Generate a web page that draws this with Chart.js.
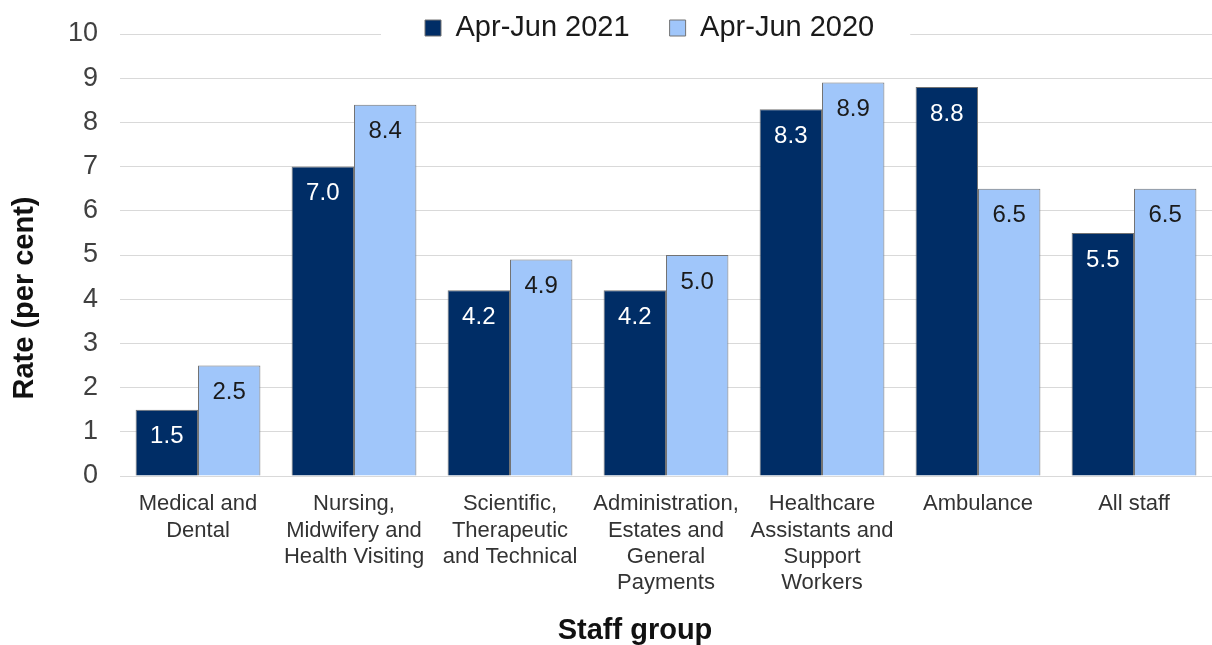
<!DOCTYPE html>
<html>
<head>
<meta charset="utf-8">
<script src="https://cdn.jsdelivr.net/npm/chart.js@4/dist/chart.umd.min.js"></script>
<style>
  html, body { margin: 0; padding: 0; background: #ffffff; }
  #wrap { width: 1212px; height: 645px; position: relative; }
</style>
</head>
<body>
<div id="wrap"><canvas id="c" width="1212" height="645"></canvas></div>
<script>
// ---- data ----
const categories = [
  ["Medical and", "Dental"],
  ["Nursing,", "Midwifery and", "Health Visiting"],
  ["Scientific,", "Therapeutic", "and Technical"],
  ["Administration,", "Estates and", "General", "Payments"],
  ["Healthcare", "Assistants and", "Support", "Workers"],
  ["Ambulance"],
  ["All staff"]
];
const seriesNames = ["Apr-Jun 2021", "Apr-Jun 2020"];
const rate2021 = [1.5, 7.0, 4.2, 4.2, 8.3, 8.8, 5.5];
const rate2020 = [2.5, 8.4, 4.9, 5.0, 8.9, 6.5, 6.5];
const yTicks = [0, 1, 2, 3, 4, 5, 6, 7, 8, 9, 10];

const FONT = "'Liberation Sans', Arial, sans-serif";
const DARK = '#002d66';
const LIGHT = '#a0c6fa';

// value labels inside bar tops
const valueLabels = {
  id: 'valueLabels',
  afterDatasetsDraw(chart) {
    const ctx = chart.ctx;
    ctx.save();
    ctx.font = '24px ' + FONT;
    ctx.textAlign = 'center';
    ctx.textBaseline = 'middle';
    chart.data.datasets.forEach((ds, i) => {
      const meta = chart.getDatasetMeta(i);
      ctx.fillStyle = i === 0 ? '#ffffff' : '#1a1a1a';
      meta.data.forEach((bar, j) => {
        ctx.fillText(Number(ds.data[j]).toFixed(1), bar.x, bar.y + 27);
      });
    });
    ctx.restore();
  }
};

// legend overlapping plot top with white background; axis title offsets
const layoutTweaks = {
  id: 'layoutTweaks',
  afterInit(chart) {
    const lg = chart.legend;
    if (!lg) return;
    const origFit = lg.fit;
    lg.fit = function () { origFit.call(this); this.height = 34; };
    const origDraw = lg.draw;
    lg.draw = function () {
      const hb = this.legendHitBoxes || [];
      const ctx = this.ctx;
      const savedBottom = this.bottom;
      ctx.save();
      if (hb.length) {
        const dx = 425 - hb[0].left;
        const dy = 28 - (hb[0].top + hb[0].height / 2);
        const first = hb[0], last = hb[hb.length - 1];
        ctx.fillStyle = '#ffffff';
        ctx.fillRect(first.left + dx - 44, 6, (last.left + last.width) - first.left + 44 + 36, 42);
        ctx.translate(dx, dy);
      }
      this.bottom = this.top + 140;
      origDraw.call(this);
      this.bottom = savedBottom;
      ctx.restore();
    };
  },
  afterLayout(chart) {
    const y = chart.scales.y, x = chart.scales.x;
    if (y && !y._titlePatched) {
      const o = y.drawTitle;
      y.drawTitle = function () { const c = this.ctx; c.save(); c.translate(0, 43); o.call(this); c.restore(); };
      y._titlePatched = true;
    }
    if (x && !x._titlePatched) {
      const o = x.drawTitle;
      x.drawTitle = function () { const c = this.ctx; c.save(); c.translate(-31, 0); o.call(this); c.restore(); };
      x._titlePatched = true;
    }
  }
};

new Chart(document.getElementById('c'), {
  type: 'bar',
  data: {
    labels: categories,
    datasets: [
      { label: seriesNames[0], data: rate2021, backgroundColor: DARK, borderColor: '#737373', borderWidth: 1, borderSkipped: 'bottom' },
      { label: seriesNames[1], data: rate2020, backgroundColor: LIGHT, borderColor: '#737373', borderWidth: 1, borderSkipped: 'bottom' }
    ]
  },
  options: {
    responsive: false,
    animation: false,
    devicePixelRatio: 1,
    layout: { padding: { left: 10, right: -7, top: 0, bottom: 0 } },
    datasets: { bar: { categoryPercentage: 0.80, barPercentage: 1.0 } },
    plugins: {
      legend: {
        position: 'top',
        align: 'center',
        labels: {
          font: { family: FONT, size: 29 },
          color: '#1a1a1a',
          boxWidth: 16,
          boxHeight: 16,
          padding: 40
        }
      },
      tooltip: { enabled: false },
      title: { display: false }
    },
    scales: {
      x: {
        type: 'category',
        offset: true,
        grid: { display: false, drawTicks: false },
        border: { display: true, color: '#d9d9d9', width: 1 },
        ticks: {
          autoSkip: false,
          maxRotation: 0,
          minRotation: 0,
          padding: 15,
          color: '#333333',
          font: { family: FONT, size: 22, lineHeight: 1.2 }
        },
        title: {
          display: true,
          text: 'Staff group',
          color: '#111111',
          font: { family: FONT, size: 29, weight: 'bold', lineHeight: 1 },
          padding: { top: 0, bottom: 0 }
        },
        afterFit(scale) { scale.height = 169; }
      },
      y: {
        min: 0,
        max: 10,
        afterBuildTicks(scale) { scale.ticks = yTicks.map(v => ({ value: v })); },
        grid: { color: '#d9d9d9', lineWidth: 1, drawTicks: false },
        border: { display: false },
        ticks: {
          padding: 22,
          color: '#404040',
          font: { family: FONT, size: 27 }
        },
        title: {
          display: true,
          text: 'Rate (per cent)',
          color: '#111111',
          font: { family: FONT, size: 29, weight: 'bold', lineHeight: 1 },
          padding: { top: 0, bottom: 0 }
        },
        afterFit(scale) {
          scale.width = 110;
          scale.paddingTop = 12;
          scale.paddingBottom = 12;
        }
      }
    }
  },
  plugins: [valueLabels, layoutTweaks]
});
</script>
</body>
</html>
